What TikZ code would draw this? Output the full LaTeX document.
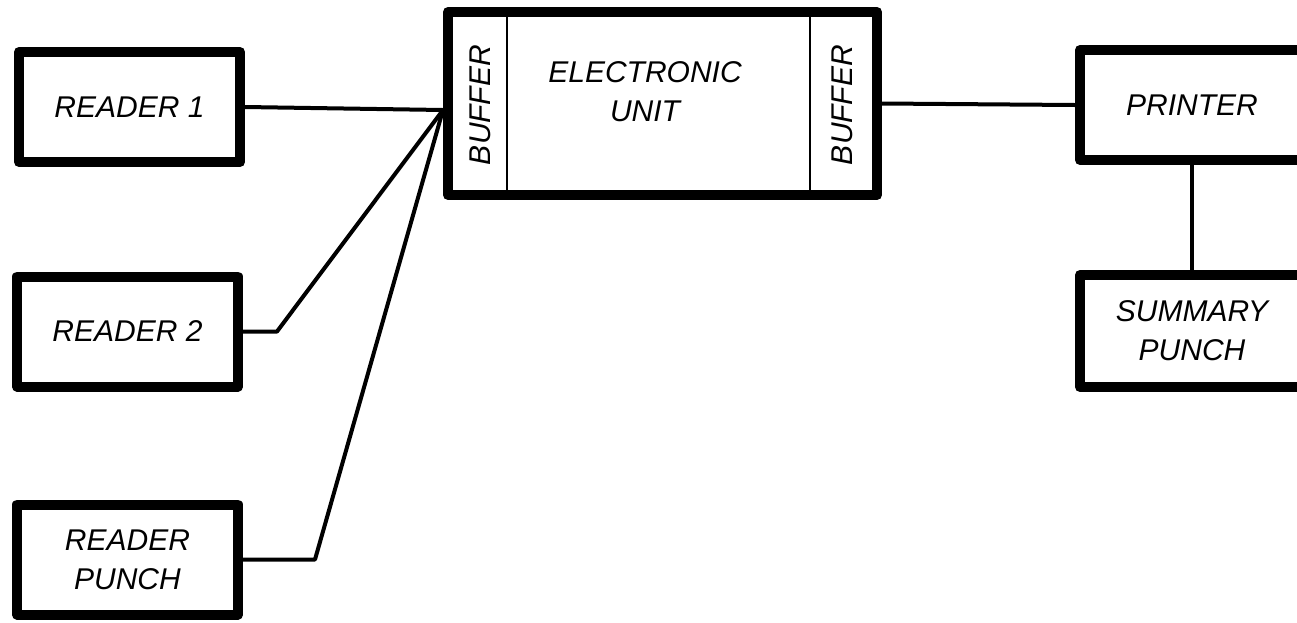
\documentclass[tikz,border=0pt]{standalone}
\usepackage{fontspec}
\setmainfont{Liberation Sans}
\usepackage{tikz}

\tikzset{
    unitbox/.style={draw, line width=10pt, line join=round, minimum width=221pt, minimum height=110pt,
        font=\itshape\fontsize{30}{39}\selectfont, align=center, inner sep=0pt},
    lettering/.style={font=\itshape\fontsize{30}{39}\selectfont, align=center, inner sep=0pt},
    wire/.style={line width=4pt, line join=round},
    divider/.style={line width=2pt}
}

\begin{document}
\begin{tikzpicture}[x=1pt, y=-1pt]
    \useasboundingbox (0,0) rectangle (1297,622);
    \clip (0,0) rectangle (1297,622);

    % Draw nodes
    \node[unitbox] (reader1) at (129.5,107) {READER 1};
    \node[unitbox] (reader2) at (127.5,331.5) {READER 2};
    \node[unitbox] (punch) at (127.5,559.5) {READER\\PUNCH};
    \node[unitbox, minimum width=429pt, minimum height=183pt] (unit) at (662.5,103.5) {};
    \node[unitbox, minimum width=224pt] (printer) at (1192,105) {PRINTER};
    \node[unitbox, minimum width=224pt, minimum height=112pt] (summary) at (1192,331) {SUMMARY\\PUNCH};

    % Inside the electronic unit
    \draw[divider] (507,12) -- (507,195);
    \draw[divider] (810,12) -- (810,195);
    \node[lettering, rotate=90] (lbuf) at (480,105) {BUFFER};
    \node[lettering, rotate=90] (rbuf) at (842,105) {BUFFER};
    \node[lettering] (etext) at (645,92) {ELECTRONIC\\UNIT};

    % Draw connections
    \coordinate (join) at (443,110);
    \coordinate (bend2) at (277,331.5);
    \coordinate (bend3) at (315,559.5);
    \draw[wire] (reader1.east) -- (join);
    \draw[wire] (reader2.east) -- (bend2) -- (join);
    \draw[wire] (punch.east) -- (bend3) -- (join);
    \draw[wire] (unit.east) -- (printer.west);
    \draw[wire] (printer.south) -- (summary.north);
\end{tikzpicture}
\end{document}
